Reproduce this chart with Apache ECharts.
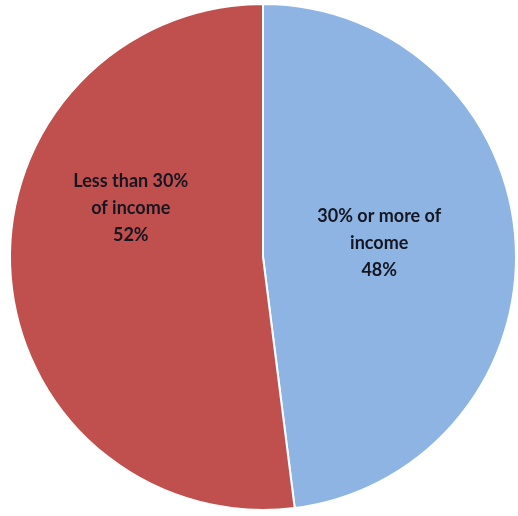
<!DOCTYPE html>
<html><head><meta charset="utf-8">
<script src="https://cdn.jsdelivr.net/npm/echarts@6/dist/echarts.min.js"></script>
<style>html,body{margin:0;padding:0;background:#fff}#c{width:518px;height:516px}</style>
</head><body><div id="c"></div>
<script>
var categories = ['30% or more of\nincome', 'Less than 30%\nof income'];
var values = [48, 52];
var colors = ['#8DB4E2', '#C0504D'];
var labelShift = [[-13, -6], [-3, -57]];

var chart = echarts.init(document.getElementById('c'), null, {renderer: 'canvas'});
chart.setOption({
  animation: false,
  series: [{
    type: 'pie',
    center: [263, 257],
    radius: 253,
    startAngle: 90,
    clockwise: true,
    data: categories.map(function (n, i) {
      return {name: n, value: values[i], itemStyle: {color: colors[i]}};
    }),
    itemStyle: {borderColor: '#fff', borderWidth: 2},
    label: {
      show: true,
      position: 'inside',
      formatter: function (p) { return p.name + '\n' + p.value + '%'; },
      color: '#161622',
      fontFamily: 'Lato',
      fontWeight: 'bold',
      fontSize: 18,
      lineHeight: 27,
      align: 'center'
    },
    labelLine: {show: false},
    labelLayout: function (p) {
      var s = labelShift[p.dataIndex];
      return {dx: s[0], dy: s[1]};
    }
  }]
});
</script></body></html>
